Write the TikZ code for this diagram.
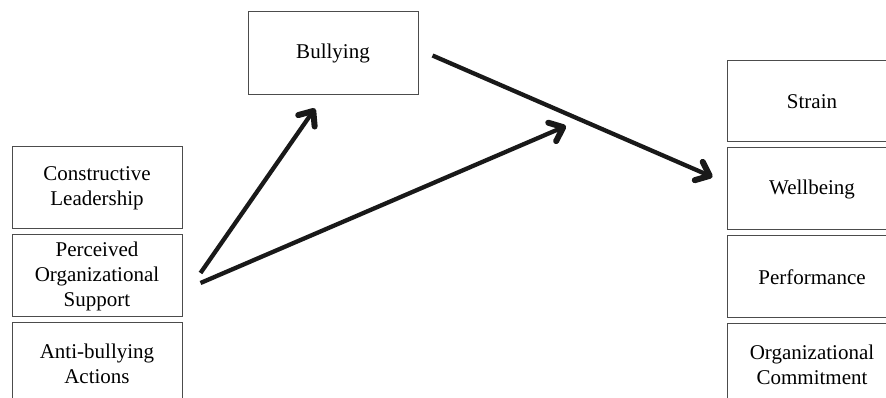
\documentclass[tikz,border=0pt]{standalone}
\usepackage{fontspec}
\setmainfont{Liberation Serif}
\usetikzlibrary{arrows.meta}
\usetikzlibrary{calc}
\usetikzlibrary{positioning}

\begin{document}
\begin{tikzpicture}[x=1pt,y=1pt]
  \colorlet{boxcol}{black!70}
  \colorlet{arrowcol}{black!90}
  \tikzset{>={Straight Barb[length=12pt,width=20pt,line width=6pt,round]}} % open barb head
  \tikzstyle{factor}=[draw=boxcol,line width=1pt,minimum width=170pt,minimum height=82pt,inner sep=0pt,align=center,font=\fontsize{21}{25}\selectfont]
  \tikzstyle{effect}=[->,arrowcol,line width=4.3pt]

  % CONSTANTS
  \def\gap{5pt}

  \useasboundingbox (0,0) rectangle (886,398);
  \clip (0,0) rectangle (886,398);

  % Predictors
  \node[factor] (lead) at (97,210) {Constructive\\Leadership};
  \node[factor,below=\gap of lead] (pos) {Perceived\\Organizational\\Support};
  \node[factor,below=\gap of pos] (anti) {Anti-bullying\\Actions};

  % Mediator
  \node[factor,minimum height=83pt] (bully) at (333,344.5) {Bullying};

  % Outcomes
  \node[factor,minimum height=81pt] (strain) at (812,296.5) {Strain};
  \node[factor,below=\gap of strain] (well) {Wellbeing};
  \node[factor,below=\gap of well] (perf) {Performance};
  \node[factor,below=\gap of perf] (commit) {Organizational\\Commitment};

  % Arrows
  \coordinate (mod) at (566,272);
  \draw[effect] ($(pos.east)+(18,3)$) -- ($(bully.south)+(-18,-13)$);
  \draw[effect] ($(pos.east)+(18,-7)$) -- (mod);
  \draw[effect] ($(bully.east)+(14,-2)$) -- ($(well.west)+(-14,12)$);

\end{tikzpicture}
\end{document}
